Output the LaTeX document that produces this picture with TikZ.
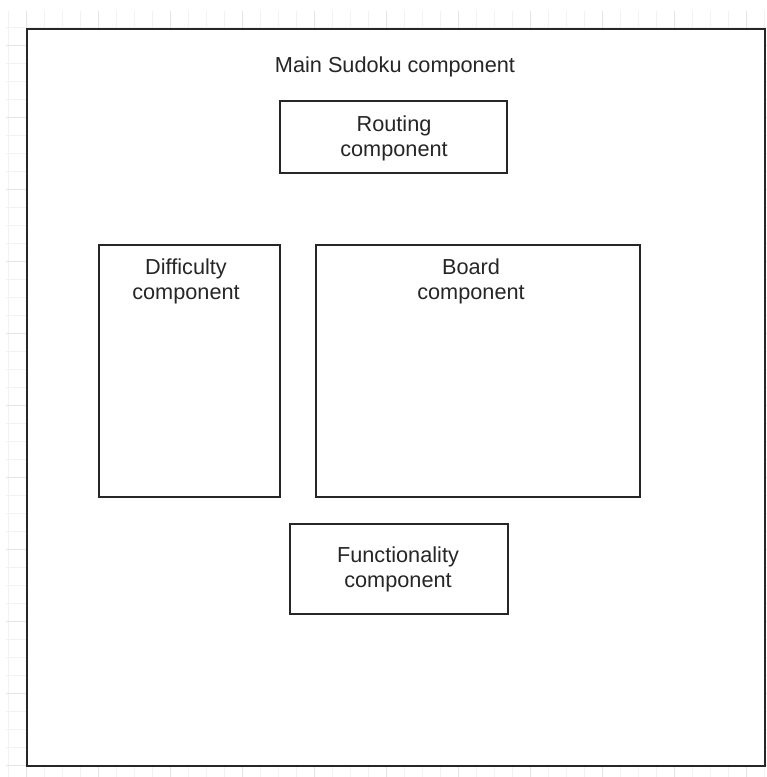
\documentclass[tikz,border=0pt]{standalone}
\usepackage{fontspec}
\setmainfont{Liberation Sans}
\begin{document}
\begin{tikzpicture}[x=1pt,y=-1pt,
  txt/.style={font=\fontsize{21.7}{24.8}\selectfont, align=center, inner sep=0pt, text=black!85, anchor=north},
  comp/.style={draw=black!85, line width=1.5pt, fill=white, inner sep=0pt, anchor=north west},
  minorline/.style={draw=black!5, line width=0.8pt},
  majorline/.style={draw=black!10, line width=0.8pt}]
\useasboundingbox (0,0) rectangle (767,777);
\fill[white] (0,0) rectangle (767,777);
% background grid
\begin{scope}
\clip (6,11) rectangle (767,777);
\foreach \x in {8,26,...,767} \draw[minorline] (\x,0) -- (\x,777);
\foreach \y in {9,27,...,777} \draw[minorline] (0,\y) -- (767,\y);
\foreach \x in {26,98,...,767} \draw[majorline] (\x,0) -- (\x,777);
\foreach \y in {45,117,...,777} \draw[majorline] (0,\y) -- (767,\y);
\end{scope}
% main component
\node[comp, line width=2pt, minimum width=738pt, minimum height=737pt] (main) at (26,28) {};
\node[txt, anchor=base] (maintitle) at (395,72) {Main Sudoku component};
% routing
\node[comp, minimum width=227pt, minimum height=72pt] (routing) at (279,100) {};
\node[txt] (routingtxt) at (394,115.5) {Routing\\component};
% difficulty
\node[comp, minimum width=181pt, minimum height=252pt] (difficulty) at (98,244) {};
\node[txt] (difficultytxt) at (186,259) {Difficulty\\component};
% board
\node[comp, minimum width=324pt, minimum height=252pt] (board) at (315,244) {};
\node[txt] (boardtxt) at (471,259) {Board\\component};
% functionality
\node[comp, minimum width=218pt, minimum height=90pt] (functionality) at (289,523) {};
\node[txt] (functionalitytxt) at (398,546.5) {Functionality\\component};
\end{tikzpicture}
\end{document}
